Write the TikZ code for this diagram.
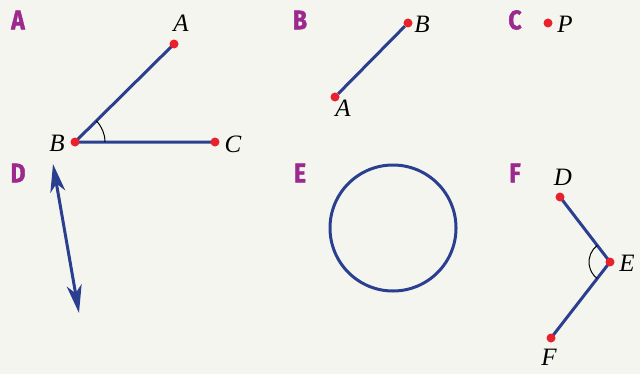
\documentclass[tikz,border=0pt]{standalone}
\usepackage{fontspec}
\setmainfont{Liberation Serif}
\newfontfamily\panelfont[FakeStretch=0.85,FakeBold=1.5]{Fira Sans}
\usetikzlibrary{angles,arrows.meta}
\definecolor{bgcol}{HTML}{F5F5F0}
\definecolor{segblue}{HTML}{2A3F8F}
\definecolor{dotred}{HTML}{E8212B}
\definecolor{panelpurple}{HTML}{9C2A8E}

\begin{document}
\begin{tikzpicture}[x=0.5pt, y=-0.5pt]
\tikzstyle{dotStyle}=[shape = circle, minimum size = 4.5pt, inner sep = 0pt,
outer sep = 0pt, draw=none, fill=dotred]
\tikzstyle{letStyle}=[inner sep = 0pt, font=\fontsize{12.5}{14}\selectfont\itshape]
\tikzstyle{panStyle}=[inner sep = 0pt, text=panelpurple, font=\fontsize{13.5}{15}\selectfont\panelfont\bfseries]
\tikzstyle{segStyle}=[draw=segblue, line width=1.5pt]
\tikzstyle{arcStyle}=[draw=black, line width=0.5pt, angle radius=#1]
\tikzstyle{tipStyle}=[{Stealth[length=14pt, width=7.5pt, inset=4pt]}-{Stealth[length=14pt, width=7.5pt, inset=4pt]}]

\fill[bgcol] (0,0) rectangle (640,374);
\useasboundingbox (0,0) rectangle (640,374);

% panel letters
\foreach \p/\x/\y in {A/18/20,B/300/20,C/515/20,D/18/173,E/300/173,F/515/173}
	\node[panStyle] (pan\p) at (\x,\y) {\p};

% A: angle ABC
\coordinate (aA) at (174,44);
\coordinate (aB) at (75,142);
\coordinate (aC) at (215,142);
\draw[segStyle] (aA) -- (aB) -- (aC);
\pic[arcStyle=15pt] {angle = aC--aB--aA};
\foreach \n in {aA,aB,aC}
	\node[dotStyle] (d\n) at (\n) {};
\node[letStyle] (lA) at (181,23) {A};
\node[letStyle] (lB) at (57,143) {B};
\node[letStyle] (lC) at (233,144) {C};

% B: segment AB
\node[dotStyle] (bA) at (335,97) {};
\node[dotStyle] (bB) at (408,23) {};
\draw[segStyle] (bA) -- (bB);
\node[letStyle] (lbA) at (343,108) {A};
\node[letStyle] (lbB) at (422,24) {B};

% C: point P
\node[dotStyle] (cP) at (548,23) {};
\node[letStyle] (lcP) at (565,24) {P};

% D: line
\coordinate (dS) at (53,164);
\coordinate (dT) at (79,313);
\draw[segStyle, tipStyle] (dS) -- (dT);

% E: circle
\node[draw=segblue, line width=1.5pt, circle, minimum size=63pt, inner sep=0pt] (eO) at (393,228) {};

% F: angle DEF
\coordinate (fD) at (560,197);
\coordinate (fE) at (610,262);
\coordinate (fF) at (551,338);
\draw[segStyle] (fD) -- (fE) -- (fF);
\pic[arcStyle=10.5pt] {angle = fD--fE--fF};
\foreach \n in {fD,fE,fF}
	\node[dotStyle] (d\n) at (\n) {};
\node[letStyle] (lfD) at (563,177) {D};
\node[letStyle] (lfE) at (627,263) {E};
\node[letStyle] (lfF) at (549,357) {F};
\end{tikzpicture}
\end{document}
